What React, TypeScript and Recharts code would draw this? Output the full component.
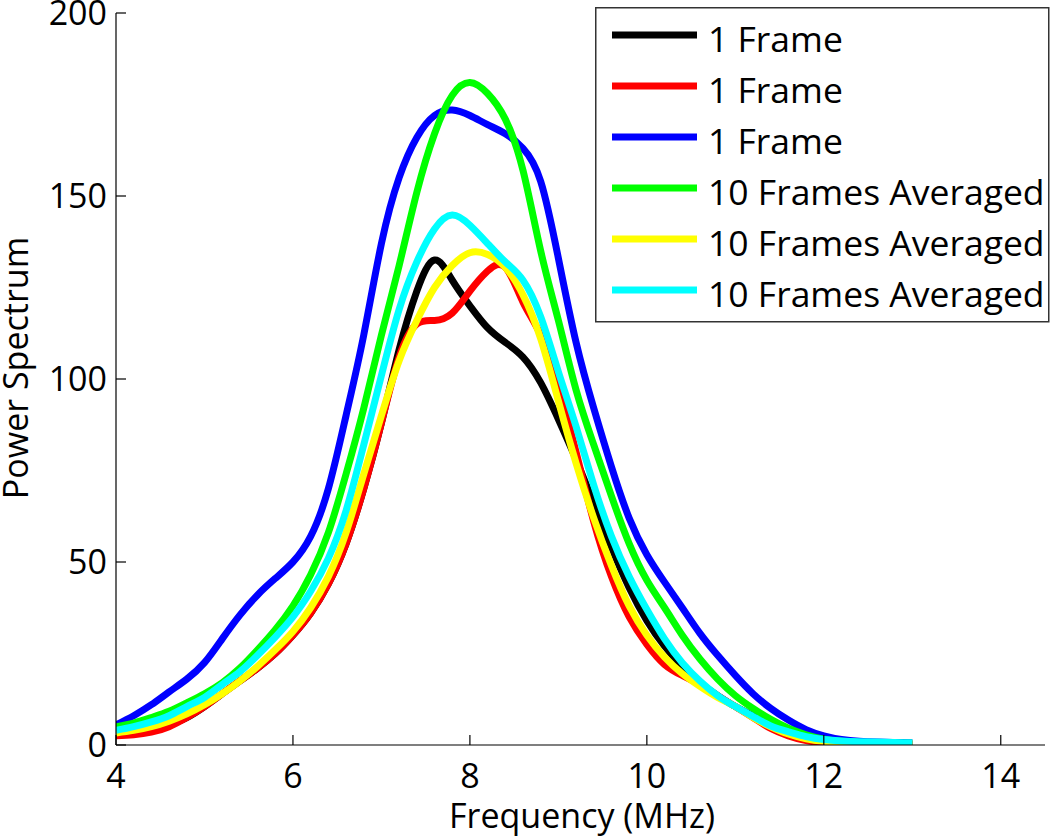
import { LineChart, Line, XAxis, YAxis, Legend } from "recharts";

// frequency (MHz), one sample every 0.2
const freqs = [
  4.0, 4.2, 4.4, 4.6, 4.8, 5.0, 5.2, 5.4, 5.6, 5.8, 6.0, 6.2, 6.4, 6.6, 6.8, 7.0,
  7.2, 7.4, 7.6, 7.8, 8.0, 8.2, 8.4, 8.6, 8.8, 9.0, 9.2, 9.4, 9.6, 9.8, 10.0,
  10.2, 10.4, 10.6, 10.8, 11.0, 11.2, 11.4, 11.6, 11.8, 12.0, 12.2, 12.4, 12.6,
  12.8, 13.0,
];

const frameA = [
  3.0, 3.3, 4.0, 5.5, 7.5, 10.5, 14, 17.5, 21, 25, 30, 36, 44, 55, 70, 88,
  108, 124, 132.5, 127, 120, 114, 110, 106, 99, 89, 78, 66, 54, 43, 34,
  27, 21.5, 17, 13.5, 10.5, 8, 5.5, 3, 1.6, 0.8, 0.5, 0.3, 0.2, 0.2, 0.2,
];

const frameB = [
  2.5, 2.8, 3.5, 5, 7.5, 10.5, 14, 17.5, 21, 25, 30, 36, 44, 55, 70, 88,
  106, 115, 116, 118, 124, 129.5, 130.5, 121, 112, 98, 80, 61, 46, 35, 27.5,
  22, 19, 16.5, 13.5, 10.5, 7.5, 4.5, 2.5, 1.2, 0.6, 0.3, 0.2, 0.2, 0.2, 0.2,
];

const frameC = [
  5.5, 8, 11, 14.5, 18, 22.5, 29, 35.5, 41, 45.5, 50, 57, 70, 90, 112, 137,
  155, 166, 172, 173.5, 172, 169.5, 167, 163, 154, 133, 110, 92, 76, 62, 52,
  44.5, 37.5, 30.5, 24.5, 19, 14, 10, 6.8, 4.2, 2.5, 1.5, 1.0, 0.8, 0.7, 0.6,
];

const avgA = [
  5, 6, 7.5, 9.2, 11.5, 14, 17, 21, 26, 31.5, 38, 46.5, 58, 74, 92, 112,
  131, 151, 167, 177.5, 181, 178, 171, 157, 135, 116, 97, 82, 68, 55, 45,
  37.5, 30, 23.5, 18, 13.5, 10, 7, 4.6, 2.8, 1.6, 1.0, 0.7, 0.6, 0.5, 0.5,
];

const avgB = [
  3.3, 4, 5, 6.5, 8.5, 11, 14, 17.5, 21.5, 26, 31, 37.5, 46, 58, 74, 90,
  105, 116, 125, 131, 134.5, 134, 130.5, 123, 111, 94, 77, 62, 49, 38, 30,
  24, 19.5, 16, 13, 10.5, 7.5, 5, 3, 1.7, 1, 0.6, 0.4, 0.3, 0.3, 0.3,
];

const avgC = [
  4, 5, 6.3, 8, 10.5, 13, 16.5, 20, 24.5, 29.5, 35, 42, 51, 64, 82, 101,
  119, 132, 141, 144.8, 142, 137, 132, 127, 117, 102, 87, 71, 57, 46, 37,
  29, 22.5, 17.5, 13.5, 10.5, 7.8, 5.2, 3.6, 2.3, 1.5, 1.1, 0.9, 0.8, 0.7, 0.6,
];

const xTicks = [4, 6, 8, 10, 12, 14];
const yTicks = [0, 50, 100, 150, 200];

// legend order = draw order (last one ends up on top)
const SERIES = [
  { key: "frameA", name: "1 Frame", color: "#000000", values: frameA },
  { key: "frameB", name: "1 Frame", color: "#ff0000", values: frameB },
  { key: "frameC", name: "1 Frame", color: "#0000ff", values: frameC },
  { key: "avgA", name: "10 Frames Averaged", color: "#00ff00", values: avgA },
  { key: "avgB", name: "10 Frames Averaged", color: "#ffff00", values: avgB },
  { key: "avgC", name: "10 Frames Averaged", color: "#00ffff", values: avgC },
];

const data = freqs.map((f, i) => {
  const row: { [k: string]: number } = { freq: f };
  SERIES.forEach((s) => {
    row[s.key] = s.values[i];
  });
  return row;
});

const FONT = "'Open Sans', 'Noto Sans', sans-serif";

function XTick(props: any) {
  const { x, y, payload } = props;
  return (
    <g>
      <line x1={x} y1={y} x2={x} y2={y - 10} stroke="#000" strokeWidth={1.2} />
      <text x={x} y={y + 43} textAnchor="middle" fontSize={34} fontFamily={FONT} fill="#000">
        {payload.value}
      </text>
    </g>
  );
}

function YTick(props: any) {
  const { x, y, payload } = props;
  return (
    <g>
      <line x1={x} y1={y} x2={x + 10} y2={y} stroke="#000" strokeWidth={1.2} />
      <text x={x - 9} y={y + 12} textAnchor="end" fontSize={34} fontFamily={FONT} fill="#000">
        {payload.value}
      </text>
    </g>
  );
}

function YLabel() {
  return (
    <text
      transform="translate(28, 368) rotate(-90)"
      textAnchor="middle"
      fontSize={34}
      fontFamily={FONT}
      fill="#000"
    >
      Power Spectrum
    </text>
  );
}

function XLabel() {
  return (
    <text x={582} y={828} textAnchor="middle" fontSize={34} fontFamily={FONT} fill="#000">
      Frequency (MHz)
    </text>
  );
}

function LegendBox() {
  return (
    <svg width={455} height={316} style={{ display: "block" }}>
      <rect x={0.75} y={0.75} width={453} height={314} fill="#fff" stroke="#333" strokeWidth={1.5} />
      {SERIES.map((s, i) => {
        const cy = 28 + i * 51;
        return (
          <g key={s.key}>
            <line x1={17} x2={102} y1={cy} y2={cy} stroke={s.color} strokeWidth={7} />
            <text x={113} y={cy + 17} fontSize={35.5} fontFamily={FONT} fill="#000">
              {s.name}
            </text>
          </g>
        );
      })}
    </svg>
  );
}

export default function App() {
  return (
    <div style={{ position: "absolute", left: 0, top: 0, background: "#fff" }}>
      <LineChart
        width={1050}
        height={838}
        data={data}
        margin={{ top: 13, right: 5, bottom: 0, left: 0 }}
      >
        <XAxis
          dataKey="freq"
          type="number"
          domain={[4, 14.5]}
          ticks={xTicks}
          allowDataOverflow
          height={93}
          tickSize={0}
          tickMargin={0}
          tickLine={false}
          axisLine={{ stroke: "#000", strokeWidth: 1.2 }}
          tick={<XTick />}
          label={<XLabel />}
        />
        <YAxis
          type="number"
          domain={[0, 200]}
          ticks={yTicks}
          allowDataOverflow
          width={116}
          tickSize={0}
          tickMargin={0}
          tickLine={false}
          axisLine={{ stroke: "#000", strokeWidth: 1.2 }}
          tick={<YTick />}
          label={<YLabel />}
        />
        <Legend
          layout="vertical"
          align="center"
          verticalAlign="middle"
          wrapperStyle={{ left: 595, top: 7, width: 455, height: 316 }}
          content={() => <LegendBox />}
        />
        {SERIES.map((s) => (
          <Line
            key={s.key}
            type="natural"
            dataKey={s.key}
            name={s.name}
            stroke={s.color}
            strokeWidth={7}
            strokeLinejoin="round"
            dot={false}
            activeDot={false}
            isAnimationActive={false}
          />
        ))}
      </LineChart>
    </div>
  );
}
